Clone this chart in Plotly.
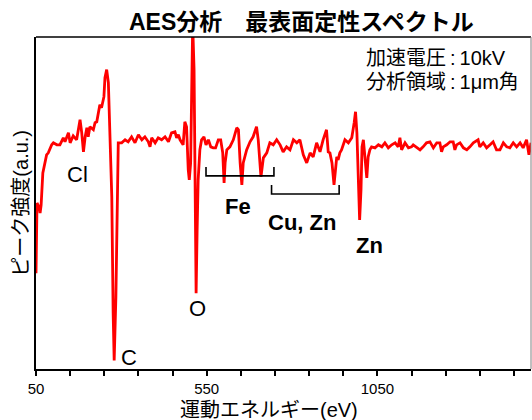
import plotly.graph_objects as go

# ---- data ----
energy_ev = [50, 53, 56, 60, 62, 65, 70, 73, 81, 86, 96, 101, 111, 120, 130, 135, 145, 150, 159, 169,
             179, 184, 189, 194, 199, 203, 208, 218, 223, 228, 232, 237, 242, 245, 249, 252, 257, 262, 267, 272,
             276, 279, 284, 288, 291, 301, 311, 320, 330, 340, 350, 360, 369, 379, 384, 389, 399, 408, 418, 428,
             438, 447, 457, 462, 467, 472, 477, 481, 486, 491, 496, 499, 503, 506, 509, 513, 516, 519, 522, 525,
             530, 535, 542, 548, 555, 562, 569, 576, 584, 591, 597, 601, 604, 609, 618, 628, 638, 643, 648, 653,
             657, 667, 677, 686, 696, 701, 709, 716, 726, 735, 745, 755, 765, 774, 784, 794, 804, 814, 823, 833,
             843, 853, 862, 872, 882, 891, 901, 906, 911, 917, 923, 931, 935, 940, 945, 955, 965, 975, 982, 986,
             990, 994, 998, 1002, 1005, 1009, 1014, 1019, 1023, 1028, 1033, 1043, 1053, 1063, 1072, 1082, 1092, 1102, 1111, 1116,
             1121, 1131, 1141, 1150, 1155, 1165, 1175, 1184, 1194, 1204, 1214, 1224, 1233, 1238, 1243, 1253, 1263, 1272, 1277, 1282,
             1292, 1302, 1312, 1321, 1331, 1345, 1350, 1360, 1370, 1380, 1389, 1399, 1409, 1419, 1429, 1438, 1448, 1458, 1468, 1477,
             1487, 1494, 1500]
intensity = [97, 167, 165, 162, 157, 165, 197, 203, 215, 217, 225, 227, 225, 225, 232, 228, 237, 227, 234, 230,
             250, 237, 218, 233, 242, 233, 243, 240, 247, 248, 255, 265, 262, 268, 273, 292, 300, 287, 240, 173,
             57, 10, 73, 173, 227, 227, 230, 228, 233, 227, 235, 230, 233, 228, 223, 232, 227, 232, 230, 233,
             228, 237, 238, 232, 235, 230, 227, 225, 248, 243, 200, 190, 207, 273, 345, 300, 173, 77, 140, 190,
             220, 230, 233, 225, 230, 223, 222, 222, 230, 230, 217, 187, 207, 220, 223, 230, 242, 240, 207, 185,
             207, 220, 228, 233, 243, 230, 193, 212, 217, 227, 225, 230, 225, 218, 223, 220, 230, 227, 230, 215,
             207, 217, 213, 227, 218, 230, 240, 218, 217, 207, 185, 213, 210, 217, 220, 230, 227, 232, 247, 258,
             237, 180, 150, 180, 223, 230, 213, 192, 213, 220, 223, 222, 225, 223, 227, 222, 225, 227, 223, 232,
             220, 227, 222, 223, 225, 222, 220, 223, 227, 228, 222, 227, 227, 218, 223, 225, 228, 228, 220, 225,
             227, 222, 220, 223, 227, 230, 223, 227, 222, 225, 228, 220, 220, 227, 223, 222, 227, 223, 227, 222,
             230, 215, 227]

tick_values = [50, 150, 250, 350, 450, 550, 650, 750, 850, 950, 1050, 1150, 1250, 1350, 1450]
tick_labels = ["50", "", "", "", "", "550", "", "", "", "", "1050", "", "", "", ""]

element_labels = ["Cl", "C", "O", "<b>Fe</b>", "<b>Cu, Zn</b>", "<b>Zn</b>"]
label_x = [171, 322, 522, 642, 828, 1027]
label_y = [195, 13, 62, 164, 148, 125]

fe_bracket = (548, 747, 203, 194)
cuzn_bracket = (740, 938, 185, 176)

FONT = "Arial, 'Liberation Sans', 'Noto Sans CJK JP', sans-serif"

fig = go.Figure()
fig.add_trace(go.Scatter(x=energy_ev, y=intensity, mode="lines",
                         line=dict(color="#FF0000", width=2.8), hoverinfo="skip"))

annotations = []
for t, x, y in zip(element_labels, label_x, label_y):
    annotations.append(dict(text=t, x=x, y=y, xref="x", yref="y", showarrow=False,
                            font=dict(family=FONT, size=22, color="black"),
                            xanchor="center", yanchor="middle"))

annotations += [
    dict(text="<b>AES分析　最表面定性スペクトル</b>", x=0.537, y=1.045, xref="paper", yref="paper",
         showarrow=False, font=dict(family=FONT, size=23, color="black"), xanchor="center", yanchor="middle"),
    dict(text="加速電圧\u2009:\u200910kV", x=0.663, y=0.936, xref="paper", yref="paper", showarrow=False,
         font=dict(family=FONT, size=20, color="black"), xanchor="left", yanchor="middle"),
    dict(text="分析領域\u2009:\u20091μm角", x=0.663, y=0.865, xref="paper", yref="paper", showarrow=False,
         font=dict(family=FONT, size=20, color="black"), xanchor="left", yanchor="middle"),
    dict(text="ピーク強度(a.u.)", x=-0.031, y=0.5, xref="paper", yref="paper", showarrow=False,
         textangle=-90, font=dict(family=FONT, size=20, color="black"), xanchor="center", yanchor="middle"),
    dict(text="運動エネルギー(eV)", x=0.471, y=-0.122, xref="paper", yref="paper", showarrow=False,
         font=dict(family=FONT, size=20, color="black"), xanchor="center", yanchor="middle"),
]

shapes = []
for (x0, x1, ytop, ybot) in [fe_bracket, cuzn_bracket]:
    shapes.append(dict(type="path", xref="x", yref="y",
                       path=f"M {x0},{ytop} L {x0},{ybot} L {x1},{ybot} L {x1},{ytop}",
                       line=dict(color="black", width=1.6)))
# top and right frame
shapes.append(dict(type="line", xref="paper", yref="paper", x0=0, x1=1, y0=1, y1=1,
                   line=dict(color="black", width=1.5)))
shapes.append(dict(type="line", xref="paper", yref="paper", x0=1, x1=1, y0=0, y1=1,
                   line=dict(color="#808080", width=1)))

fig.update_layout(
    width=532, height=420,
    margin=dict(l=36, r=1, t=37, b=51),
    paper_bgcolor="white", plot_bgcolor="white",
    showlegend=False,
    annotations=annotations,
    shapes=shapes,
    xaxis=dict(range=[50, 1500], tickvals=tick_values, ticktext=tick_labels,
               ticks="outside", ticklen=5, tickwidth=1.5, tickcolor="black",
               showline=True, linecolor="black", linewidth=2, showgrid=False, zeroline=False,
               tickfont=dict(family=FONT, size=15, color="black")),
    yaxis=dict(range=[1.5, 332.5], showticklabels=False, ticks="",
               showline=True, linecolor="black", linewidth=1.5, showgrid=False, zeroline=False),
)

fig.write_html("out.html", config={"displayModeBar": False},
               post_script="document.body.style.margin='0px';document.body.style.overflow='hidden';")
